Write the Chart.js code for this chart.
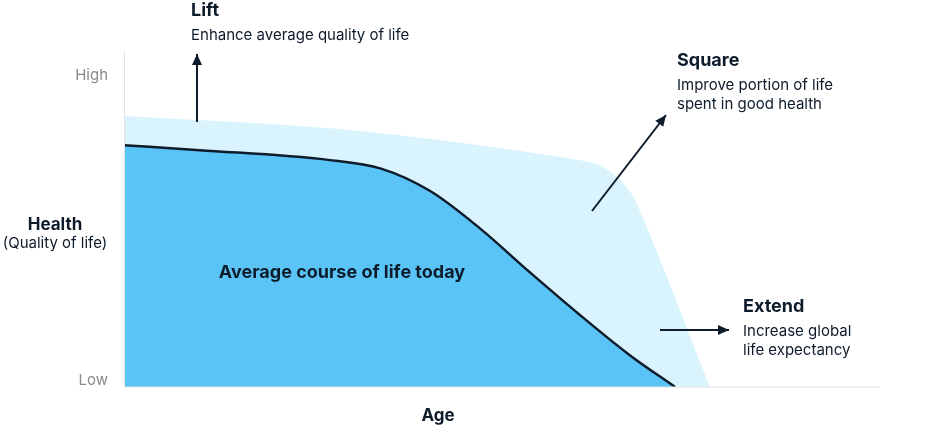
<!DOCTYPE html>
<html><head><meta charset="utf-8">
<script src="https://cdn.jsdelivr.net/npm/chart.js@4"></script>
<style>html,body{margin:0;padding:0;background:#fff}#w{width:936px;height:434px}</style>
</head><body><div id="w"><canvas id="c"></canvas></div>
<script>
const todayAge=[0,10,27,34,40.5,47,53.7,60.3,66.9,72.9];
const todayHealth=[72.2,70.7,67.8,65.2,58.5,47.5,34.2,21.5,9.5,0];
const idealAge=[0,29.9,61.6,64.9,67.6,77.5];
const idealHealth=[80.9,76.7,67.2,63.3,55.8,0];
const yTickLabels=['Low','High'];
const yTickValues=[2,93];
const pts=(a,b)=>a.map((x,i)=>({x,y:b[i]}));
const FONT='Inter, "Noto Sans", sans-serif';
const deco={id:'deco',afterDraw(ch){
 const c=ch.ctx,a=ch.chartArea,ys=ch.scales.y;
 c.save();
 c.strokeStyle='#e3e3e3';c.lineWidth=1;c.beginPath();
 c.moveTo(a.left+0.5,a.top);c.lineTo(a.left+0.5,a.bottom);c.lineTo(a.right,a.bottom);c.stroke();
 c.fillStyle='#8a8a8a';c.font='15px '+FONT;c.textAlign='right';c.textBaseline='middle';
 yTickLabels.forEach((t,i)=>c.fillText(t,108,ys.getPixelForValue(yTickValues[i])));
 c.fillStyle='#0d1b2a';c.textAlign='center';
 c.font='bold 17px '+FONT;c.fillText('Health',55,225);c.fillText('Age',438,416);
 c.font='15px '+FONT;c.fillText('(Quality of life)',55,243);
 c.font='bold 18px '+FONT;c.fillText('Average course of life today',342,273);
 c.textAlign='left';
 const txt=(x,y,h,lines)=>{c.font='bold 18px '+FONT;c.fillText(h,x,y);c.font='15px '+FONT;lines.forEach((l,i)=>c.fillText(l,x,y+24+i*19));};
 txt(191,11,'Lift',['Enhance average quality of life']);
 txt(677,61,'Square',['Improve portion of life','spent in good health']);
 txt(743,307,'Extend',['Increase global','life expectancy']);
 const arr=(x1,y1,x2,y2)=>{c.strokeStyle='#0d1b2a';c.fillStyle='#0d1b2a';c.lineWidth=2;c.beginPath();c.moveTo(x1,y1);c.lineTo(x2,y2);c.stroke();
  const an=Math.atan2(y2-y1,x2-x1),L=11,W=5;c.beginPath();c.moveTo(x2,y2);
  c.lineTo(x2-L*Math.cos(an)+W*Math.sin(an),y2-L*Math.sin(an)-W*Math.cos(an));
  c.lineTo(x2-L*Math.cos(an)-W*Math.sin(an),y2-L*Math.sin(an)+W*Math.cos(an));c.closePath();c.fill();};
 arr(197,122,197,54);arr(592,211,666,115);arr(660,330,729,330);
 c.restore();}};
new Chart(document.getElementById('c'),{type:'line',
 data:{datasets:[
  {data:pts(todayAge,todayHealth),borderColor:'#0d1b2a',borderWidth:2.5,backgroundColor:'#5bc4f7',fill:'origin',pointRadius:0,cubicInterpolationMode:'monotone',order:0},
  {data:pts(idealAge,idealHealth),borderWidth:0,borderColor:'rgba(0,0,0,0)',backgroundColor:'#d9f4fd',fill:'origin',pointRadius:0,tension:0.3,order:1}]},
 options:{responsive:true,maintainAspectRatio:false,animation:false,
  layout:{padding:{left:124,top:52,right:56,bottom:47}},
  plugins:{legend:{display:false},tooltip:{enabled:false}},
  scales:{x:{type:'linear',min:0,max:100,display:false},y:{min:0,max:100,display:false}}},
 plugins:[deco]});
</script></body></html>
